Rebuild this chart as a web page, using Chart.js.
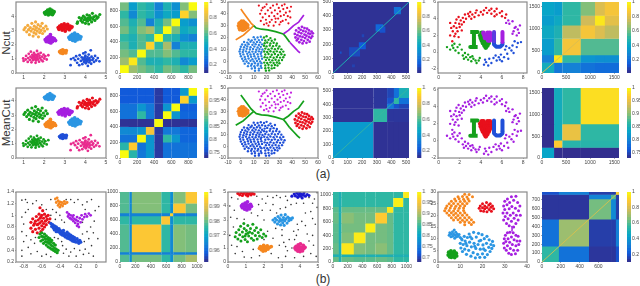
<!DOCTYPE html>
<html lang="en">
<head>
<meta charset="utf-8" />
<title>Ncut and MeanCut clusterings</title>
<style>
  html, body { margin: 0; padding: 0; background: #fff; }
  body { position: relative; width: 640px; height: 286px; overflow: hidden; font-family: "Liberation Sans", Arial, sans-serif; color: #333; }
  canvas { position: absolute; }
  .lab { position: absolute; font-size: 11.5px; line-height: 12px; white-space: nowrap; }
  .rot { transform: translate(-50%, -50%) rotate(-90deg); }
  .mid { transform: translate(-50%, -50%); }
</style>
</head>
<body>
<div class="lab rot" style="left:6px;top:43px">Ncut</div>
<div class="lab rot" style="left:6px;top:123px">MeanCut</div>
<div class="lab mid" style="left:323px;top:174px;font-size:12px">(a)</div>
<div class="lab mid" style="left:323px;top:279px;font-size:12px">(b)</div>
<script src="https://cdn.jsdelivr.net/npm/chart.js/dist/chart.umd.min.js"></script>
<script>
// ---------- tick labels ----------
const ticks15 = [1, 2, 3, 4, 5];
const ticks04 = [0, 1, 2, 3, 4];
const ticks05 = [0, 1, 2, 3, 4, 5];
const ticksTsneX = [-10, 0, 10, 20, 30, 40, 50, 60];
const ticksTsneY = [-10, 0, 10, 20, 30, 40, 50];
const ticksRingX = [0, 2, 4, 6, 8];
const ticksRingY = [-2, 0, 2, 4, 6];
const ticksK9 = [0, 200, 400, 600, 800];
const ticksK5 = [0, 100, 200, 300, 400, 500];
const ticksK16 = [0, 500, 1000, 1500];
const ticksK10 = [0, 200, 400, 600, 800, 1000];
const ticksK8x = [0, 200, 400, 600];
const ticksK8y = [0, 100, 200, 300, 400, 500, 600, 700];
const ticksNoiseX = [-0.8, -0.6, -0.4, -0.2, 0];
const ticksNoiseY = [0.2, 0.4, 0.6, 0.8, 1, 1.2, 1.4];
const ticksShapeX = [0, 10, 20, 30, 40];
const ticksShapeY = [0, 5, 10, 15, 20, 25, 30];
const cbar25 = [0.2, 0.4, 0.6, 0.8, 1];
const cbarMean = [0.75, 0.8, 0.85, 0.9, 0.95, 1];
const cbarNoise1 = [0.96, 0.97, 0.98, 0.99, 1];
const cbarNoise2 = [0.7, 0.75, 0.8, 0.85, 0.9, 0.95, 1];

// ---------- blobs data (top row and middle row, col 1) ----------
const blobPink = [[1,.85],[.98,1.02],[1.1,.95],[1.12,1.2],[1.2,.78],[1.22,1.05],[1.25,1.35],[1.3,.92],[1.33,1.15],[1.35,1.5],[1.38,.75],[1.4,1.05],[1.42,1.28],[1.45,.9],[1.47,1.18],[1.5,1.42],[1.52,.98],[1.54,1.1],[1.56,1.3],[1.58,.72],[1.6,.88],[1.62,1.2],[1.63,1.02],[1.65,1.55],[1.68,1.12],[1.7,.95],[1.72,1.35],[1.75,.8],[1.77,1.22],[1.8,1.05],[1.83,1.42],[1.86,.93],[1.9,1.15],[1.93,.82],[1.97,1.3],[2,1.02],[2.05,1.18],[2.12,.95],[2.2,1.25],[1.5,1.22],[1.58,1],[1.44,1.12],[1.66,1.28]];
const blobBlue = [[3.42,1.05],[3.5,.9],[3.55,1.18],[3.6,.72],[3.65,1],[3.7,.55],[3.72,1.25],[3.78,.85],[3.82,1.1],[3.85,.62],[3.88,.95],[3.9,1.38],[3.93,.78],[3.95,1.05],[3.98,.9],[4,1.22],[4.02,.68],[4.05,1],[4.07,.85],[4.1,1.12],[4.12,.5],[4.14,.95],[4.16,1.3],[4.18,.75],[4.2,1.05],[4.23,.88],[4.26,1.6],[4.28,.65],[4.3,1.15],[4.34,.92],[4.38,1.02],[4.42,.78],[4.47,1.2],[4.52,.88],[4.6,1.05],[4.68,.82],[3.3,.98],[3.28,.55],[4,1.45],[4.1,.92],[3.97,1.12],[4.05,.78]];
const blobOrange = [[2.75,1.5],[2.8,1.42],[2.82,1.58],[2.87,1.5],[2.9,1.38],[2.9,1.62],[2.95,1.46],[2.96,1.56],[3.02,1.5],[3.05,1.42],[3.07,1.58]];
const blobPurple = [[2.05,2.35],[2.1,2.22],[2.12,2.45],[2.18,2.32],[2.2,2.55],[2.22,2.18],[2.26,2.42],[2.3,2.3],[2.32,2.12],[2.34,2.5],[2.38,2.36],[2.4,2.22],[2.42,2.48],[2.46,2.3],[2.5,2.4],[2.55,2.28],[2.3,2.7]];
const blobCyan = [[3.2,2.5],[3.25,2.38],[3.28,2.62],[3.33,2.48],[3.36,2.72],[3.38,2.3],[3.42,2.55],[3.46,2.42],[3.48,2.8],[3.5,2.25],[3.52,2.6],[3.56,2.5],[3.6,2.35],[3.62,2.7],[3.66,2.48],[3.7,2.6],[3.74,2.4],[3.78,2.55],[3.45,2.65],[3.58,2.58]];
const blobRed = [[2.68,3.2],[2.72,3.08],[2.75,3.3],[2.8,3.18],[2.84,3.38],[2.87,3.02],[2.9,3.25],[2.94,3.12],[2.97,3.45],[3,3.2],[3.02,2.95],[3.06,3.32],[3.1,3.12],[3.14,3.42],[3.18,3.2],[3.22,3.05],[3.26,3.3],[3.3,3.18],[3.35,3.25],[2.95,3.32],[3.08,3.22]];
const blobYellow = [[1.02,3.05],[1.08,3.2],[1.15,2.9],[1.2,3.35],[1.24,3.05],[1.28,2.7],[1.32,3.2],[1.36,2.95],[1.4,3.5],[1.44,3.1],[1.46,2.6],[1.5,2.85],[1.52,3.3],[1.56,3.05],[1.58,3.6],[1.6,2.75],[1.63,3.2],[1.66,2.95],[1.7,3.4],[1.72,2.55],[1.75,3.1],[1.78,2.85],[1.82,3.3],[1.85,3],[1.9,3.5],[1.92,2.78],[1.96,3.15],[2.02,2.95],[2.08,3.3],[2.15,3.1]];
const blobGreenTop = [[2.02,4.25],[2.06,4.15],[2.1,4.32],[2.14,4.22],[2.17,4.42],[2.2,4.1],[2.24,4.28],[2.28,4.36],[2.3,4.16],[2.34,4.25],[2.38,4.4],[2.4,4.12],[2.44,4.22],[2.48,4.32],[2.28,4.5]];
const blobGreenRight = [[3.62,3.6],[3.7,3.9],[3.78,3.7],[3.82,3.85],[3.86,3.58],[3.9,4],[3.94,3.75],[3.98,3.9],[4,3.5],[4.04,3.8],[4.08,4.1],[4.1,3.65],[4.14,3.88],[4.16,3.45],[4.2,4.05],[4.22,3.75],[4.26,3.9],[4.3,3.6],[4.34,4.2],[4.36,3.8],[4.4,3.95],[4.46,3.7],[4.5,4.02],[4.56,3.85],[4.62,3.95],[4.7,4.12],[3.6,3.5],[4.18,3.82],[4.06,3.7]];

// ---------- tsne-like data (col 2) ----------
const tsneSparse = [[14,47],[15,40],[15.5,34],[16,43],[17,37],[18,31],[18.5,46],[19,40],[19.5,35],[20,48],[21,43],[21.5,30],[22,38],[22.5,33],[23,45],[24,41],[24,35],[25,47],[25.5,30],[26,38],[26.5,43],[27,33],[28,48],[28.5,40],[29,36],[29.5,45],[30,31],[30.5,42],[31,38],[32,47],[32.5,34],[33,44],[33.5,39],[34,48],[35,41],[35,35],[36,45],[36.5,38],[37,32],[38,42],[38.5,37],[39,46],[20,32],[27,36],[31,33],[17,45]];
const tsneBall = [[-2,30],[-1.5,28],[-1.5,32],[-1,30],[-.5,27],[-.5,33],[0,29],[0,31.5],[.5,26.5],[.5,34],[1,28],[1,30.5],[1.5,32.5],[2,27],[2,29.5],[2,34],[2.5,31],[3,26.5],[3,28.5],[3,33],[3.5,30],[4,27.5],[4,32],[4.5,29.5],[5,31],[5.5,28.5],[5.5,30.5],[1.5,26],[-1,26.5]];
const tsneLeft = [[10,20.3],[13,20],[15.5,20.6],[6,18.2],[8.5,17.6],[11,18.4],[14,17.8],[16.5,18.1],[2.5,16.2],[5,15.7],[7.5,16.4],[10,15.8],[12.5,16.3],[15,15.9],[1,14.1],[3.5,13.6],[6,14.4],[9,13.8],[11.5,14.3],[14,13.7],[16.5,14.2],[0,12.2],[2.5,11.7],[5,12.4],[7.5,11.8],[10.5,12.3],[13,11.6],[15.5,12.1],[-.5,10.1],[2,9.6],[4.5,10.4],[7,9.8],[9.5,10.3],[12,9.7],[14.5,10.2],[16.8,9.8],[-1,8.2],[1.5,7.7],[4,8.3],[6.5,7.6],[9,8.1],[11.5,7.8],[14,8.3],[16,7.7],[-.5,6.2],[2,5.7],[5,6.3],[7.5,5.6],[10,6.1],[13,5.8],[15.5,6.3],[0,4.1],[3,3.6],[5.5,4.3],[8,3.7],[10.5,4.2],[13.5,3.8],[16,4.3],[1,2.1],[3.5,1.7],[6,2.3],[9,1.6],[11.5,2.2],[14,1.8],[16.5,2.1],[2,.2],[4.5,-.3],[7.5,.3],[10,-.2],[12.5,.2],[15,-.3],[3,-2.1],[6,-1.7],[8.5,-2.3],[11,-1.8],[13.5,-2.2],[16,-1.7],[5.5,-4.2],[8,-3.8],[10.5,-4.3],[13,-3.7],[15.5,-4.1],[8.5,-6.2],[11,-5.8],[14,-6.3],[16,-5.7],[11,-8.1],[14,-7.8]];
const tsneRight = [[18,20],[20,21],[23,19.5],[19,17.5],[21.5,18],[24,17.2],[26.5,18.3],[18.5,15.2],[20.5,15.8],[23,15],[25.5,15.6],[28,14.9],[18,13],[20,12.5],[22.5,13.3],[25,12.7],[27.5,13.2],[30,12.5],[19,10.6],[21.5,10],[24,10.8],[26.5,10.1],[29,10.7],[31.5,10],[18.2,8.2],[20.5,7.7],[23,8.4],[25.5,7.8],[28,8.3],[30.5,7.6],[33,8.1],[19,5.6],[21.5,6],[24,5.4],[26.5,6],[29,5.3],[31.5,5.8],[34,5.2],[18.5,3.4],[20.5,3],[23,3.6],[25.5,2.9],[28,3.5],[30.5,3],[33,3.3],[19.5,.9],[22,1.3],[24.5,.7],[27,1.2],[29.5,.6],[32,1],[18.2,-1.2],[20.5,-1.6],[23,-1],[25.5,-1.5],[28,-1.1],[30,-1.7],[19,-3.6],[21.5,-3.1],[24,-3.7],[26.5,-3.2],[28.5,-3.6],[19,-6],[21.5,-5.6],[24,-6.1],[26,-5.7],[19.5,-8],[22,-7.8]];
const tsneDisc = [[42,23],[42.5,20],[43,26],[43.5,17.5],[44,22],[44.5,19],[45,28],[45,24.5],[45.5,16],[46,21],[46.5,26.5],[47,18],[47,23.5],[47.5,29],[48,15],[48,20.5],[48.5,25.5],[49,17],[49.5,22.5],[49.5,28],[50,19.5],[50.5,25],[51,15.5],[51,21.5],[51.5,27.5],[52,18],[52.5,23.5],[53,20.5],[53,26],[53.5,16.5],[54,23],[54.5,19.5],[55,25],[55.5,21],[56,23.5]];
const curveTopLeft = [[0,44],[2,41],[4,38],[6,35],[8,32],[10,30]];
const curveBottomLeft = [[-4,18],[-1,20],[2,22],[5,25],[8,28],[10,30]];
const curveMiddle = [[10,30],[12,28],[16,27],[21,26.5],[27,25],[33,23]];
const curveTopRight = [[33,23],[37,26],[41,30],[45,33],[47,36],[49,39]];
const curveBottomRight = [[33,23],[35,20.5],[38,16]];
const curveBottomEnd = [[38,16],[41,12.5],[44,9],[46,7]];

// ---------- ring and letters data (col 3) ----------
const ringTop = [[1.3,1.3],[1.5,1.9],[1.1,2],[1.6,2.2],[1.35,2.5],[1.8,2.5],[1.2,2.9],[1.7,2.9],[1.45,3.1],[2,3],[1.1,3.5],[1.6,3.5],[1.95,3.4],[2.2,3.3],[1.7,3.9],[2.1,3.8],[2.4,3.6],[1.9,4.2],[2.3,4.1],[2.6,4],[2.5,4.5],[2.9,4.3],[3.1,4],[2.8,4.6],[3.2,4.5],[3.4,4.2],[3,4.8],[3.5,4.7],[3.8,4.4],[3.6,5],[4,4.8],[4.2,4.5],[4.3,5],[4.5,5.3],[4.6,4.7],[4.8,5],[5,4.6],[5,5.2],[5.3,4.9],[5.5,4.5],[5.5,5.2],[5.8,4.7],[6,4.3],[6,4.9],[6.3,4.1],[6.4,4.5],[5.3,4.3],[2.2,2.6],[1.9,1.8]];
const ringRight = [[6.4,3.5],[6.7,3.4],[7,3.7],[6.6,3.8],[7.3,3],[7.5,2.7],[7.1,2.5],[7.6,2.3],[7.2,2.9],[7.7,3.2],[7.4,2],[7,2.2]];
const ringBottom = [[7.8,1.2],[7.5,1.1],[7.2,1.3],[7,.8],[7.4,.6],[6.9,.2],[7.1,-.1],[6.7,.5],[6.5,-.2],[6.3,.3],[6.2,-.6],[6.6,-.8],[5.9,-.3],[5.8,-.9],[6,-1.1],[5.4,-.4],[5.5,-1],[5.2,-.7],[5,-1.3],[4.8,-.8],[4.5,-1.2],[4.7,-1.6],[4.4,-.9],[4.3,-1.5],[5.7,-.6],[6.4,.7]];
const ringLeft = [[.8,.6],[1.1,.3],[1.3,.8],[1.5,1],[1.6,.2],[1.8,.6],[1.9,-.1],[2,.9],[2.2,.3],[2.3,-.4],[2.5,-.1],[2.6,-.6],[2.8,-.3],[2.8,-.9],[3,-.6],[3.1,-1.1],[3.3,-.8],[3.5,-1],[3.6,-1.3],[3.8,-1],[3.9,-.7],[2.4,-.8],[1.4,.5],[3.2,-.5]];
const letterI = [[3,2.4],[3.7,2.4],[3.35,2.4],[3.35,.6],[3,.6],[3.7,.6]];
const heartLower = [[3.95,2],[4,1.7],[4.2,1.7],[4.1,1.4],[4.3,1.4],[4.5,1.4],[4.2,1.1],[4.4,1.1],[4.6,1.1],[4.75,1.1],[4.35,.8],[4.5,.8],[4.62,.8],[4.47,.55],[4.1,2.3],[4.15,2]];
const heartUpper = [[4.25,2.3],[4.65,2.3],[4.85,2.3],[4.35,2],[4.55,2],[4.75,2],[4.95,2],[4.4,1.7],[4.6,1.7],[4.8,1.7],[4.95,1.7],[4.7,1.4],[4.85,1.4]];
const letterUBase = [[5.25,1.3],[5.25,.9],[5.45,.65],[5.85,.65],[6.05,.9],[6.05,1.2]];
const letterULeft = [[5.25,2.4],[5.25,1.3]];
const letterURight = [[6.05,2.4],[6.05,1.2]];

// ---------- noisy clusters, bottom row col 1 ----------
const diagRed = [[-.72,.78],[-.72,.88],[-.7,.72],[-.7,.94],[-.69,.83],[-.67,.76],[-.67,.9],[-.66,.98],[-.65,.7],[-.65,.84],[-.64,.92],[-.63,.78],[-.63,1.02],[-.62,.87],[-.62,.95],[-.61,.72],[-.6,.82],[-.6,.9],[-.6,1],[-.59,1.08],[-.59,.76],[-.58,.86],[-.58,.95],[-.57,.8],[-.57,1.02],[-.56,.9],[-.55,.98],[-.55,.84],[-.54,.93],[-.53,1],[-.52,.88],[-.51,.94],[-.62,1.13],[-.68,.86],[-.64,.85],[-.61,.97]];
const diagOrange = [[-.45,1.28],[-.44,1.22],[-.43,1.3],[-.42,1.17],[-.42,1.25],[-.41,1.2],[-.4,1.14],[-.4,1.23],[-.39,1.18],[-.38,1.22],[-.37,1.16],[-.36,1.2],[-.35,1.24],[-.34,1.2],[-.32,1.22]];
const diagPurple = [[-.32,1.05],[-.31,.98],[-.3,1.02],[-.29,.95],[-.28,1],[-.27,.93],[-.26,.97],[-.25,.9],[-.25,1],[-.24,.94],[-.23,.87],[-.22,.92],[-.21,.97],[-.2,.85],[-.2,.9],[-.19,.8],[-.18,.95],[-.17,.88],[-.16,1],[-.15,.93],[-.13,.97],[-.12,1.02],[-.1,.98],[-.08,1.03],[-.06,1],[-.21,.82]];
const diagBlue = [[-.5,.86],[-.49,.81],[-.48,.84],[-.47,.78],[-.46,.82],[-.45,.76],[-.44,.8],[-.43,.74],[-.43,.78],[-.42,.72],[-.41,.77],[-.4,.7],[-.4,.74],[-.39,.68],[-.38,.73],[-.37,.66],[-.37,.7],[-.36,.74],[-.35,.65],[-.35,.69],[-.34,.63],[-.33,.67],[-.32,.71],[-.32,.61],[-.31,.65],[-.3,.6],[-.3,.68],[-.29,.63],[-.28,.58],[-.28,.66],[-.27,.61],[-.26,.56],[-.26,.64],[-.25,.6],[-.24,.55],[-.24,.62],[-.23,.58],[-.22,.54],[-.21,.6],[-.2,.56],[-.19,.52],[-.18,.57],[-.17,.54],[-.44,.72],[-.46,.75]];
const diagGreen = [[-.63,.62],[-.62,.68],[-.61,.56],[-.6,.64],[-.6,.7],[-.59,.58],[-.58,.52],[-.58,.63],[-.57,.68],[-.56,.55],[-.56,.6],[-.55,.49],[-.55,.65],[-.54,.54],[-.54,.59],[-.53,.46],[-.53,.62],[-.52,.52],[-.52,.57],[-.51,.44],[-.51,.6],[-.5,.49],[-.5,.54],[-.49,.42],[-.49,.57],[-.48,.47],[-.47,.4],[-.47,.52],[-.46,.44],[-.45,.38],[-.45,.49],[-.44,.42],[-.43,.36],[-.42,.4]];
const diagNoise = [[-.82,1.26],[-.78,1.27],[-.76,1.22],[-.7,1.2],[-.66,1.25],[-.6,1.18],[-.55,1.1],[-.5,1.27],[-.33,1.27],[-.28,1.27],[-.24,1.22],[-.2,1.27],[-.15,1.18],[-.1,1.23],[-.05,1.27],[-.12,1.1],[-.01,1.08],[.03,1.15],[-.82,.97],[-.8,.85],[-.78,1.05],[-.75,1.1],[-.48,1.1],[-.44,1.05],[-.4,1],[-.38,.92],[-.45,.93],[-.35,.88],[-.02,.9],[-.06,.8],[-.1,.72],[-.03,.7],[-.15,.68],[-.08,.6],[-.13,.55],[.02,.6],[-.05,.48],[-.12,.42],[-.18,.4],[-.24,.43],[-.28,.37],[-.33,.42],[-.36,.35],[-.37,.48],[-.3,.3],[-.22,.3],[-.14,.33],[-.08,.35],[-.03,.3],[-.82,.72],[-.77,.65],[-.8,.55],[-.72,.58],[-.68,.52],[-.75,.45],[-.82,.4],[-.82,.3],[-.72,.34],[-.65,.38],[-.6,.3],[-.55,.33],[-.5,.29],[-.67,.62],[-.42,.6],[-.38,.55],[-.46,.62],[-.15,.88],[-.5,1]];

// ---------- noisy blobs, bottom row col 2 ----------
const gridRed = [[.55,4.9],[.65,4.8],[.72,4.95],[.8,4.75],[.85,4.88],[.92,4.98],[1,4.8],[1.05,4.92],[1.1,4.72],[1.15,4.85],[1.22,4.97],[1.28,4.8],[1.35,4.9],[1.45,4.85]];
const gridBlue = [[3.55,4.7],[3.68,4.85],[3.75,4.72],[3.82,4.92],[3.88,4.62],[3.92,4.8],[3.98,4.95],[4.03,4.7],[4.08,4.85],[4.12,4.58],[4.18,4.78],[4.22,4.92],[4.3,4.7],[4.4,4.82],[4.5,4.75]];
const gridPurple = [[.75,4],[.8,3.88],[.82,4.12],[.88,4],[.92,3.78],[.95,4.2],[1,3.95],[1.02,4.1],[1.05,3.72],[1.08,4.3],[1.12,3.9],[1.15,4.05],[1.2,3.8],[1.25,4.12],[1.3,3.98]];
const gridCyan = [[2.5,3],[2.6,2.85],[2.62,3.12],[2.7,3],[2.75,2.72],[2.78,3.25],[2.85,2.9],[2.88,3.1],[2.92,2.65],[2.95,3.35],[3,3],[3.04,2.8],[3.08,3.18],[3.12,2.62],[3.15,2.95],[3.18,3.38],[3.22,3.08],[3.28,2.78],[3.32,3.2],[3.38,2.95],[3.42,3.12],[3.5,3.02],[3.58,3.15],[3.1,3],[2.95,2.98]];
const gridGreen = [[.4,1.8],[.45,2.1],[.55,1.65],[.6,2.3],[.65,1.95],[.7,2.55],[.72,1.5],[.8,2.15],[.82,1.8],[.88,2.75],[.9,2.4],[.95,1.6],[1,2],[1.02,2.25],[1.08,1.45],[1.1,2.6],[1.15,1.85],[1.2,2.15],[1.25,2.4],[1.3,1.7],[1.35,2.05],[1.38,2.7],[1.42,1.55],[1.48,2.25],[1.52,1.9],[1.58,2.45],[1.62,1.65],[1.68,2.1],[1.75,1.85],[1.82,2.3],[1.9,1.75],[1.98,2],[2.1,1.85],[1.1,2.05],[.95,1.85]];
const gridOrange = [[1.75,.98],[1.8,1.1],[1.85,.88],[1.9,1.02],[1.95,.78],[1.98,1.18],[2,.95],[2.05,1.08],[2.08,.82],[2.12,1],[2.18,1.15],[2.22,.92],[2.3,1.05],[2.4,1.1]];
const gridPink = [[3.72,1],[3.78,.88],[3.78,1.12],[3.85,1],[3.88,.78],[3.9,1.22],[3.96,.95],[3.98,1.08],[4,.75],[4.02,1.3],[4.08,.92],[4.1,1.05],[4.14,.8],[4.18,1.18],[4.22,.98],[4.28,1.05]];
const gridNoise = [[.2,4.6],[.55,4.5],[.1,4],[.35,3.7],[1.6,4.7],[1.9,4.5],[1.7,4.1],[2.2,4.7],[2.5,4.6],[2.7,4.75],[2.9,4.6],[3.2,4.7],[3.3,4.4],[2.1,4.2],[1.9,3.7],[2.5,4.1],[2.9,3.8],[3.2,3.9],[3.5,4.1],[3.8,4.2],[4.2,4.2],[4.5,4.6],[4.8,4.5],[4.7,4.2],[4.95,3.9],[4.6,3.6],[4.3,3.5],[4.1,2.9],[4.3,2.6],[3.85,2.7],[4.7,3.1],[4.85,2.7],[4.4,2],[3.9,2.3],[3.8,1.9],[3.7,1.6],[4.5,1.5],[4.75,1.2],[4.6,.6],[4.2,.4],[3.7,.3],[3.2,.4],[2.8,.3],[2.4,.6],[2.85,1.2],[3.2,1.1],[3.4,1.6],[3,1.9],[2.65,2.4],[2.5,1.7],[2.2,2.2],[2,3],[1.65,3.3],[1.3,3.5],[.9,3.05],[.5,3.1],[.15,3.2],[.3,2.5],[.1,1.9],[.2,1.2],[.5,1.1],[.8,.75],[.4,.6],[.9,.35],[1.4,.9],[1.3,.3],[1.75,.45],[2,1.6],[2.7,3.5],[3.65,2.2],[3.1,1.4],[3.3,.8],[3.55,1],[4.7,1.9],[4.9,.4],[3,2.3],[4.95,4.95],[2.35,3.7]];

// ---------- shapes data, bottom row col 3 ----------
const shapeCrescent = [[12,29],[14,28.9],[9,28],[11,28.1],[13,27.9],[15.5,28],[7.5,27],[9.5,27.1],[11.5,26.9],[13.5,27],[6,26],[8,26.1],[10,25.9],[12,26],[14,26.1],[5,25],[7,25.1],[9,24.9],[11,25],[13,25.1],[4,24],[6,24.1],[8,23.9],[10,24],[12,24.1],[3.5,23],[5.5,23.1],[7.5,22.9],[9.5,23],[11.5,23.1],[3,22],[5,22.1],[7,21.9],[9,22],[11.5,22.1],[4,21],[6,21.1],[8,20.9],[10,21],[12,21.1],[5,20],[7,20.1],[9,19.9],[11,20],[13,20.1],[6,19],[8,19.1],[10,18.9],[12,19],[14,19.1],[7,18],[9,18.1],[11,17.9],[13,18],[15,18.1],[10,17],[12,17.1],[14,16.9],[16,17],[12,16],[15,16.1]];
const shapeRed = [[18.5,23],[19,24],[19.2,22],[20,23.3],[20,25],[20.5,21.8],[21,24],[21,22.8],[21.8,25.5],[22,23.4],[22,21.5],[22.8,24.4],[23,22.5],[23.5,25],[23.8,23.5],[24,21.8],[24.5,24],[25,22.8]];
const shapeCyan = [[5,11.5],[5.3,12.5],[5.8,10.8],[6,12],[6.5,13],[6.6,11],[7,12],[7.3,13.7],[7.5,10.2],[7.7,11.5],[8,12.8],[8.3,10.8],[8.6,12],[9,11],[9.5,11.8],[10,10.5],[10.6,10]];
const shapeBall = [[10,8],[10.3,6],[10.8,9.5],[11,4.5],[11.3,7.5],[11.8,11],[12,5.5],[12.2,9],[12.8,3.3],[13,7],[13.2,10.5],[13.8,5],[14,12],[14.2,8.5],[14.8,2.5],[15,6.5],[15.2,10],[15.8,4],[16,12.7],[16.2,8],[16.8,1.8],[17,5.8],[17.2,10.7],[17.8,3.3],[18,7.5],[18.2,12.3],[18.8,2],[19,5.5],[19.2,9.3],[19.8,11.7],[20,3.5],[20.2,7.3],[20.8,10],[21,2],[21.2,5],[21.8,8],[22,11],[22.2,3.2],[22.8,6.3],[23,9.5],[23.4,4.5],[23.8,7.5],[24.2,5.8],[24.5,8.8],[25,7],[14.5,10.8],[16.5,6.7],[18.5,9],[20.5,5.6],[12.5,8]];
const shapeSmall = [[4.6,3],[4.8,4.2],[5.2,2.2],[5.5,3.5],[5.8,4.8],[6,2],[6.2,3],[6.5,4],[6.8,2.4],[7,3.4],[7.3,4.6],[7.5,1.9],[7.8,3],[8.2,3.8],[8.4,2.6]];
const shapeTop = [[29.2,21],[29.5,24],[29.5,18],[30,22.5],[30,26],[30.2,19.5],[30.8,16.5],[31,21],[31,24.5],[31.2,27],[31.5,18.5],[32,22.8],[32,15.5],[32.2,25.5],[32.5,20],[33,28],[33,17.5],[33.2,23.8],[33.8,21],[34,26.5],[34,15],[34.2,18.8],[34.8,23],[35,28.2],[35,16.5],[35.2,20],[35.8,25.5],[36,18],[36.2,22],[36.8,24],[37,20]];
const shapeBottom = [[29.5,8],[29.8,10],[29.8,6],[30.3,11.5],[30.5,8.8],[30.7,5],[31.2,12.5],[31.2,7],[31.5,10],[31.8,3.8],[32.2,8.5],[32.3,12.8],[32.5,5.8],[33,10.7],[33,3.2],[33.4,7.5],[33.8,12.5],[34,5],[34.2,9.5],[34.8,3.5],[35,11.5],[35,7],[35.5,9],[35.8,5],[36,11],[36.3,7.5],[36.8,9]];
const shapeNeck = [[33.2,15.5],[33.3,14],[33.2,13]];

// ---------- similarity matrices, as position on the colour bar ----------
const ncutBlobEdges = [0, 100, 200, 300, 400, 500, 600, 700, 800, 900];
const ncutBlobLevels = [
  [1, .66, .6, .55, .5, .6, .55, .5, .6],
  [.66, .95, .55, .45, .45, .5, .45, .28, .35],
  [.6, .55, 1, .55, .55, .62, .55, .5, .5],
  [.55, .45, .55, .9, .5, .68, .25, .45, .45],
  [.5, .45, .55, .5, 1, .5, .45, .3, .25],
  [.6, .5, .62, .68, .5, 1, .6, .4, .45],
  [.55, .45, .55, .25, .45, .6, 1, .35, .3],
  [.5, .28, .5, .45, .3, .4, .35, .9, .62],
  [.6, .35, .5, .45, .25, .45, .3, .62, 1]
];
const ncutTsneEdgesX = [0, 520];
const ncutTsneEdgesY = [0, 495];
const ncutTsneLevels = [[.02]];
const ncutTsneDiag = [[0, 0], [520, 495]];
const ncutTsneSpots = [[425, 455, 420, 450, .42], [415, 465, 410, 460, .2], [290, 345, 290, 340, .17], [320, 360, 280, 325, .1], [175, 225, 165, 215, .12], [110, 185, 115, 180, .08], [45, 60, 135, 150, .1], [195, 215, 250, 270, .07], [130, 150, 40, 60, .06]];
const meanTsneEdgesX = [0, 275, 370, 415, 450, 520];
const meanTsneEdgesY = [0, 268, 365, 402, 446, 520];
const meanTsneLevels = [
  [.34, .02, .02, .02, .02],
  [.02, .5, .03, .03, .03],
  [.02, .03, .22, .1, .07],
  [.02, .03, .1, .5, .2],
  [.02, .03, .07, .2, .44]
];
const meanTsneDiag = [[0, 0], [520, 520]];
const ncutRingEdgesX = [0, 250, 420, 800, 1100, 1300, 1600];
const ncutRingEdgesY = [0, 230, 400, 770, 1070, 1290, 1600];
const ncutRingLevels = [
  [.42, .22, .25, .2, .18, .18],
  [.25, .95, .5, .32, .3, .3],
  [.35, .5, .85, .55, .55, .55],
  [.4, .45, .72, .85, .78, .72],
  [.35, .4, .5, .75, .95, .8],
  [.38, .35, .5, .62, .78, .85]
];
const ncutRingDiag = [[0, 0], [800, 770]];
const meanBlobEdges = [0, 100, 200, 300, 400, 500, 600, 700, 800, 900];
const meanBlobLevels = [
  [1, .48, .22, .33, .04, .2, .2, .2, .2],
  [.48, .88, .2, .33, .04, .2, .2, .2, .2],
  [.2, .2, 1, .32, .04, .5, .32, .16, .16],
  [.28, .28, .32, .85, .04, .22, .22, .16, .16],
  [.02, .02, .02, .02, 1, .02, .02, .02, .02],
  [.2, .2, .5, .22, .04, 1, .32, .16, .16],
  [.2, .2, .32, .22, .04, .32, 1, .14, .14],
  [.12, .12, .12, .12, .04, .12, .12, .9, .34],
  [.12, .12, .12, .12, .04, .12, .12, .34, 1]
];
const meanRingEdgesX = [0, 250, 420, 800, 1600];
const meanRingEdgesY = [0, 235, 400, 770, 1600];
const meanRingLevels = [
  [.38, .01, .01, .01],
  [.01, .88, .48, .48],
  [.01, .42, .82, .5],
  [.01, .42, .5, .93]
];
const noiseEdgesX = [0, 120, 150, 535, 650, 690, 850, 1000];
const noiseEdgesY = [0, 105, 140, 535, 655, 695, 835, 1000];
const noiseLevels = [
  [.55, .3, .6, .5, .3, .6, .68],
  [.25, .25, .25, .25, .25, .25, .25],
  [.55, .28, .87, .5, .28, .62, .6],
  [.5, .27, .5, .87, .3, .5, .5],
  [.25, .25, .25, .25, .9, .25, .25],
  [.55, .27, .62, .5, .3, .87, .6],
  [.55, .27, .62, .5, .3, .62, .87]
];
const gridEdges = [0, 75, 113, 280, 440, 575, 735, 820, 955, 1040];
const gridLevels = [
  [.58, .45, .58, .56, .56, .58, .56, .5, .5],
  [.45, .45, .45, .45, .45, .45, .45, .45, .45],
  [.58, .45, .95, .62, .6, .63, .58, .5, .5],
  [.56, .45, .62, .96, .6, .6, .58, .5, .5],
  [.56, .45, .6, .6, .97, .6, .58, .5, .5],
  [.58, .45, .63, .6, .6, .88, .58, .5, .5],
  [.56, .45, .58, .58, .58, .58, .95, .5, .5],
  [.5, .45, .5, .5, .5, .5, .5, .97, .5],
  [.5, .45, .5, .5, .5, .5, .5, .5, .96]
];
const shapeEdgesX = [0, 178, 500, 735, 785, 820];
const shapeEdgesY = [0, 175, 478, 703, 755, 785];
const shapeLevels = [
  [.5, .2, .03, .03, .1],
  [.2, .66, .05, .05, .25],
  [.03, .03, .6, .28, .05],
  [.03, .03, .26, .55, .05],
  [.1, .25, .05, .05, .9]
];
const shapeDiag = [[0, 0], [820, 785]];
const colorRamp = [0, .04, .08, .12, .16, .2, .24, .28, .32, .36, .4, .44, .48, .52, .56, .6, .64, .68, .72, .76, .8, .84, .88, .92, .96];

// ---------- helpers ----------
const parula = ["#352A87", "#0F5CDD", "#1481D6", "#06A4CA", "#2EB7A4", "#87BF77", "#D1BB59", "#FEC832", "#F9FB0E"];
function parulaColor(p) {
  const t = Math.min(Math.max(p, 0), 1) * (parula.length - 1);
  const i = Math.min(Math.floor(t), parula.length - 2);
  const a = parseInt(parula[i].slice(1), 16), b = parseInt(parula[i + 1].slice(1), 16);
  const mix = s => Math.round(((a >> s) & 255) + (((b >> s) & 255) - ((a >> s) & 255)) * (t - i));
  return "rgb(" + mix(16) + "," + mix(8) + "," + mix(0) + ")";
}
const TICK_FONT = { family: "'Liberation Sans', Arial, sans-serif", size: 5 };
const frame = {
  id: "frame",
  afterDraw(chart) {
    const a = chart.chartArea, c = chart.ctx;
    c.save();
    c.strokeStyle = "#8a8a8a";
    c.lineWidth = 1.2;
    c.strokeRect(a.left, a.top, a.right - a.left, a.bottom - a.top);
    c.restore();
  }
};

function axis(range, list, hidden, noMarks) {
  return {
    type: "linear", min: range[0], max: range[1], display: !hidden,
    grid: { drawOnChartArea: false, drawTicks: !noMarks, tickLength: 1, color: "#aaa" },
    border: { display: false },
    afterBuildTicks: s => { s.ticks = list.map(v => ({ value: v })); },
    ticks: { font: TICK_FONT, color: "#444", padding: 1, maxRotation: 0, autoSkip: false, callback: v => String(v) }
  };
}

// box = [left, top, right, bottom] of the plot area on the page
function panel(box, xr, yr, xt, yt, datasets, opts) {
  opts = opts || {};
  const lm = opts.bar ? 2 : 15, tm = 4, rm = opts.bar ? 18 : 8, bm = opts.bar ? 4 : 10;
  const cv = document.createElement("canvas");
  const W = box[2] - box[0] + lm + rm, H = box[3] - box[1] + tm + bm;
  cv.width = W; cv.height = H;
  cv.style.left = box[0] - lm + "px"; cv.style.top = box[1] - tm + "px";
  cv.style.width = W + "px"; cv.style.height = H + "px";
  document.body.appendChild(cv);
  const xAxis = axis(xr, xt, opts.bar), yAxis = axis(yr, yt, false, opts.bar);
  if (opts.bar) {
    yAxis.position = "right";
    yAxis.afterFit = s => { s.width = rm; };
  } else {
    xAxis.afterFit = s => { s.height = bm; };
    yAxis.afterFit = s => { s.width = lm; };
  }
  datasets.forEach((d, i) => { d.order = -i; });
  new Chart(cv, {
    type: "line",
    data: { datasets },
    plugins: opts.frame ? [frame] : [],
    options: {
      responsive: false, animation: false, events: [],
      layout: { padding: { top: tm, right: opts.bar ? 0 : rm, left: opts.bar ? lm : 0, bottom: opts.bar ? bm : 0 } },
      plugins: { legend: { display: false }, tooltip: { enabled: false } },
      elements: { point: { borderWidth: 0, hitRadius: 0 }, line: { tension: 0 } },
      scales: { x: xAxis, y: yAxis }
    }
  });
}

const dots = (data, color, r) => ({ data, showLine: false, pointRadius: r || 1.4, pointBackgroundColor: color, pointBorderWidth: 0 });
const stroke = (data, color, w) => ({ data, showLine: true, borderColor: color, borderWidth: w || 1.7, pointRadius: 0, borderJoinStyle: "round", fill: false });

function cellSets(xe, ye, levels) {
  const out = [];
  const lapX = (xe[xe.length - 1] - xe[0]) * 0.006, lapY = (ye[ye.length - 1] - ye[0]) * 0.006;
  levels.forEach((row, r) => row.forEach((lv, c) => {
    const top = ye[r + 1] + lapY;
    out.push({
      data: [{ x: xe[c], y: top }, { x: xe[c + 1] + lapX, y: top }],
      fill: { value: ye[r] }, backgroundColor: parulaColor(lv),
      borderWidth: 0, pointRadius: 0, showLine: true
    });
  }));
  return out;
}
const spotSets = spots => spots.map(s => ({
  data: [{ x: s[0], y: s[3] }, { x: s[1], y: s[3] }],
  fill: { value: s[2] }, backgroundColor: parulaColor(s[4]), borderWidth: 0, pointRadius: 0, showLine: true
}));
function colorbar(box, yr, list) {
  const sets = colorRamp.map(p => {
    const lo = yr[0] + (yr[1] - yr[0]) * p, hi = yr[0] + (yr[1] - yr[0]) * (p + 0.05);
    return {
      data: [{ x: 0, y: hi }, { x: 1, y: hi }], fill: { value: lo },
      backgroundColor: parulaColor(p + 0.02), borderWidth: 0, pointRadius: 0, showLine: true
    };
  });
  panel(box, [0, 1], yr, [], list, sets, { bar: true });
}

// ---------- colours ----------
const PINK = "#e92b8e", BLUE = "#1f4fd8", ORANGE = "#f5871f", PURPLE = "#a51fe0", CYAN = "#2b96e3",
      RED = "#e8101c", AMBER = "#f4ab3e", GREEN = "#14a01b", BLACK = "#333";

const col1 = [16, 106], heat1 = [120, 197], bar1 = [204, 208.5];
const col2 = [228, 318], heat2 = [333, 409], bar2 = [417, 421.7];
const col3 = [438, 527], heat3 = [542, 619], bar3 = [627, 631];
const row1 = [1.5, 72.5], row2 = [88, 158], row3 = [192, 262];
const place = (c, r) => [c[0], r[0], c[1], r[1]];
const TIGHT = 1.9;

// ---------- top row ----------
panel(place(col1, row1), [.63, 5], [0, 5], ticks15, ticks04, [
  dots(blobPink, PINK), dots(blobBlue, BLUE), dots(blobOrange, ORANGE, TIGHT), dots(blobPurple, PURPLE, TIGHT),
  dots(blobCyan, CYAN, TIGHT), dots(blobRed, RED, TIGHT), dots(blobYellow, AMBER, 1.6), dots(blobGreenTop, GREEN, TIGHT), dots(blobGreenRight, GREEN, 1.6)
], { frame: true });
panel(place(heat1, row1), [0, 900], [0, 910], ticksK9, ticksK9, cellSets(ncutBlobEdges, ncutBlobEdges, ncutBlobLevels));
colorbar(place(bar1, row1), [0.1, 1], cbar25);

panel(place(col2, row1), [-10, 60], [-10, 50], ticksTsneX, ticksTsneY, [
  dots(tsneSparse, RED, 1.1), dots(tsneBall, ORANGE, 1.7), dots(tsneLeft, "#2b7fe0", 1.2), dots(tsneRight, GREEN, 1.2), dots(tsneDisc, PURPLE, 1.4),
  stroke(curveTopLeft, ORANGE), stroke(curveBottomLeft, ORANGE), stroke(curveMiddle, GREEN),
  stroke(curveTopRight, PURPLE), stroke(curveBottomRight, GREEN), stroke(curveBottomEnd, PURPLE)
], { frame: true });
panel(place(heat2, row1), [0, 520], [0, 495], ticksK5, ticksK5,
  cellSets(ncutTsneEdgesX, ncutTsneEdgesY, ncutTsneLevels).concat(spotSets(ncutTsneSpots), [stroke(ncutTsneDiag, parulaColor(.45), 1)]));
colorbar(place(bar2, row1), [0.02, 1], cbar25);

panel(place(col3, row1), [-.05, 8.37], [-2.5, 6], ticksRingX, ticksRingY, [
  dots(ringTop, RED, 1.2), dots(ringRight, PURPLE, 1.2), dots(ringBottom, BLUE, 1.2), dots(ringLeft, GREEN, 1.2),
  stroke(letterI, GREEN, 4), dots(heartLower, GREEN, 2.4), dots(heartUpper, PURPLE, 2.4),
  stroke(letterUBase, BLUE, 4), stroke(letterULeft, "#5a3be0", 4), stroke(letterURight, PURPLE, 4)
], { frame: true });
panel(place(heat3, row1), [0, 1600], [0, 1600], ticksK16, ticksK16,
  cellSets(ncutRingEdgesX, ncutRingEdgesY, ncutRingLevels).concat([stroke(ncutRingDiag, parulaColor(.78), 1)]));
colorbar(place(bar3, row1), [0.02, 1], cbar25);

// ---------- middle row ----------
panel(place(col1, row2), [.63, 5], [0, 4.9], ticks15, ticks04, [
  dots(blobPink, GREEN), dots(blobBlue, PINK), dots(blobOrange, BLUE, TIGHT), dots(blobPurple, ORANGE, TIGHT),
  dots(blobCyan, CYAN, TIGHT), dots(blobRed, PURPLE, TIGHT), dots(blobYellow, GREEN, 1.6), dots(blobGreenTop, CYAN, TIGHT), dots(blobGreenRight, RED, 1.6)
], { frame: true });
panel(place(heat1, row2), [0, 900], [0, 900], ticksK9, ticksK9, cellSets(meanBlobEdges, meanBlobEdges, meanBlobLevels));
colorbar(place(bar1, row2), [0.73, 1], cbarMean);

panel(place(col2, row2), [-10, 60], [-10, 50], ticksTsneX, ticksTsneY, [
  dots(tsneSparse, "#c41fe0", 1.1), dots(tsneBall, ORANGE, 1.7), dots(tsneLeft, BLUE, 1.2), dots(tsneRight, BLUE, 1.2), dots(tsneDisc, RED, 1.4),
  stroke(curveTopLeft, GREEN), stroke(curveBottomLeft, GREEN), stroke(curveMiddle, GREEN),
  stroke(curveTopRight, GREEN), stroke(curveBottomRight, GREEN), stroke(curveBottomEnd, GREEN)
], { frame: true });
panel(place(heat2, row2), [0, 520], [0, 520], ticksK5, ticksK5,
  cellSets(meanTsneEdgesX, meanTsneEdgesY, meanTsneLevels).concat([stroke(meanTsneDiag, parulaColor(.52), .8)]));
colorbar(place(bar2, row2), [0.11, 1], cbar25);

panel(place(col3, row2), [-.05, 8.37], [-2, 6.2], ticksRingX, ticksRingY, [
  dots(ringTop, PURPLE, 1.2), dots(ringRight, PURPLE, 1.2), dots(ringBottom, PURPLE, 1.2), dots(ringLeft, PURPLE, 1.2),
  stroke(letterI, GREEN, 4), dots(heartLower, RED, 2.4), dots(heartUpper, RED, 2.4),
  stroke(letterUBase, BLUE, 4), stroke(letterULeft, BLUE, 4), stroke(letterURight, BLUE, 4)
], { frame: true });
panel(place(heat3, row2), [0, 1600], [0, 1600], ticksK16, ticksK16, cellSets(meanRingEdgesX, meanRingEdgesY, meanRingLevels));
colorbar(place(bar3, row2), [0.73, 1], cbarMean);

// ---------- bottom row ----------
panel(place(col1, row3), [-.885, .11], [.2, 1.4], ticksNoiseX, ticksNoiseY, [
  dots(diagNoise, BLACK, .8), dots(diagRed, RED, 1.6), dots(diagOrange, ORANGE), dots(diagPurple, PURPLE), dots(diagBlue, BLUE, 1.7), dots(diagGreen, GREEN, 1.6)
], { frame: true });
panel(place(heat1, row3), [0, 1000], [0, 1000], ticksK10, ticksK10, cellSets(noiseEdgesX, noiseEdgesY, noiseLevels));
colorbar(place(bar1, row3), [0.952, 1], cbarNoise1);

panel(place(col2, row3), [0, 5], [0, 5], ticks05, ticks05, [
  dots(gridNoise, BLACK, .8), dots(gridRed, RED, 1.6), dots(gridBlue, "#1a1ad0", 1.6), dots(gridPurple, PURPLE, TIGHT), dots(gridCyan, CYAN, 1.6),
  dots(gridGreen, GREEN, 1.5), dots(gridOrange, ORANGE, TIGHT), dots(gridPink, PINK, TIGHT)
], { frame: true });
panel(place(heat2, row3), [0, 1035], [0, 1044], ticksK10, ticksK10, cellSets(gridEdges, gridEdges, gridLevels));
colorbar(place(bar2, row3), [0.68, 1], cbarNoise2);

panel(place(col3, row3), [0, 40], [0, 30], ticksShapeX, ticksShapeY, [
  dots(shapeCrescent, ORANGE, 1.5), dots(shapeRed, RED, 1.5), dots(shapeCyan, CYAN, 1.5), dots(shapeBall, CYAN, 1.6), dots(shapeSmall, GREEN, TIGHT),
  dots(shapeTop, PURPLE, 1.5), dots(shapeBottom, PURPLE, 1.5), stroke(shapeNeck, PURPLE, 1.5)
], { frame: true });
panel(place(heat3, row3), [0, 820], [0, 785], ticksK8x, ticksK8y,
  cellSets(shapeEdgesX, shapeEdgesY, shapeLevels).concat([stroke(shapeDiag, parulaColor(.8), .8)]));
colorbar(place(bar3, row3), [0.1, 1], cbar25);
</script>
</body>
</html>
